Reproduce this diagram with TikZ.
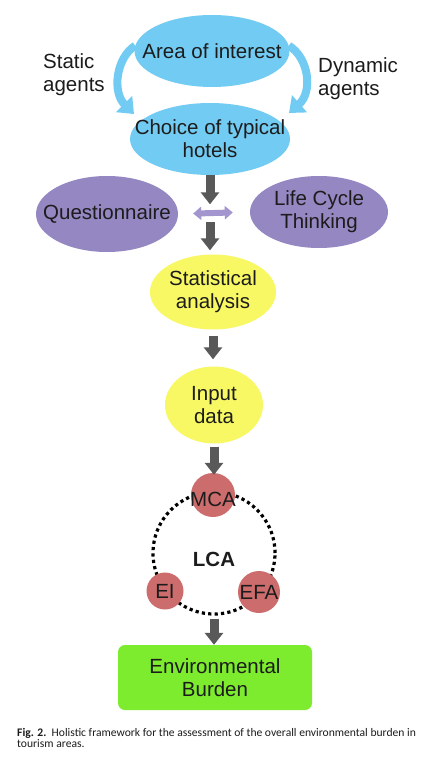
\documentclass[tikz,border=0pt]{standalone}
\usepackage{fontspec}
\setmainfont{Liberation Sans}
\newfontfamily\capfont{Carlito}
\usetikzlibrary{arrows.meta,shapes.geometric}
\definecolor{skyb}{HTML}{72CBF2}
\definecolor{lav}{HTML}{9587C2}
\definecolor{lavlt}{HTML}{A396CF}
\definecolor{yel}{HTML}{F8F865}
\definecolor{rosy}{HTML}{CC6C6C}
\definecolor{lime}{HTML}{7DEB2E}
\definecolor{darkg}{HTML}{595959}
\definecolor{txt}{HTML}{1C1C1C}
\begin{document}
\begin{tikzpicture}[x=1pt,y=-1pt,
  every node/.style={font=\fontsize{20.5}{23}\selectfont, text=txt, align=center, inner sep=0pt},
  blob/.style={ellipse, draw=none},
  disc/.style={circle, draw=none, fill=rosy},
  bluearrow/.style={draw=skyb, line width=8pt, -{Triangle[width=22pt,length=14pt]}},
  grayarrow/.style={draw=darkg, line width=9pt, -{Triangle[width=18pt,length=12pt]}},
  duoarrow/.style={draw=lavlt, line width=6pt, {Triangle[width=13pt,length=8pt]}-{Triangle[width=13pt,length=8pt]}},
  ringstyle/.style={circle, draw=black, line width=3.2pt, dash pattern=on 3.2pt off 3.2pt}
]
\useasboundingbox[fill=white] (0,0) rectangle (426,762);

% top ellipses
\node[blob, fill=skyb, minimum width=155pt, minimum height=72pt, label=center:{Area of interest}] (aoi) at (212,51) {};
\node[blob, fill=skyb, minimum width=160pt, minimum height=72pt, label=center:{Choice of typical\\hotels}] (cho) at (210,139) {};

\node[anchor=north west, align=left] (stat1) at (43,53) {Static\\agents};
\node[anchor=north west, align=left] (dyn) at (318,57) {Dynamic\\agents};

\coordinate (lt) at (134,114);
\coordinate (rt) at (289,113);
\draw[bluearrow] (aoi.176) .. controls (116,58) and (112,92) .. (lt);
\draw[bluearrow] (aoi.4) .. controls (309,58) and (313,92) .. (rt);

% purple
\node[blob, fill=lav, minimum width=142pt, minimum height=76pt, label=center:{Questionnaire}] (que) at (107,214) {};
\node[blob, fill=lav, minimum width=138pt, minimum height=72pt, label=center:{Life Cycle\\Thinking}] (lct) at (319,212) {};
\draw[duoarrow, shorten <=15pt, shorten >=17pt] (que.east) -- (lct.west);

% yellow
\node[blob, fill=yel, minimum width=126pt, minimum height=75pt, label=center:{Statistical\\analysis}] (stat) at (213,292) {};
\node[blob, fill=yel, minimum width=98pt, minimum height=77pt, label=center:{Input\\data}] (inp) at (214,405) {};

\draw[grayarrow, shorten >=50pt] (cho.south) -- (cho.south |- stat.north);
\draw[grayarrow, shorten <=47pt, shorten >=4pt] (cho.south) -- (cho.south |- stat.north);
\draw[grayarrow, shorten <=6pt, shorten >=7pt] (stat.south) -- (stat.south |- inp.north);

% LCA ring
\node[ringstyle, minimum size=122pt] (ring) at (214,553) {};
\node[font=\fontsize{20.5}{23}\selectfont\bfseries] (lca) at (214,559) {LCA};
\node[disc, minimum size=44pt] (mca) at (213,495) {};
\node at (213,499) {MCA};
\node[disc, minimum size=37pt] (ei) at (165,591) {EI};
\node[disc, minimum size=42pt] (efa) at (259,592) {EFA};

\draw[grayarrow, shorten <=3pt, shorten >=-2pt] (inp.south) -- (inp.south |- mca.north);

% bottom
\node[draw=none, fill=lime, rounded corners=7pt, minimum width=194pt, minimum height=65pt] (env) at (215,677.5) {Environmental\\Burden};
\draw[grayarrow, shorten <=3pt] (ring.south) -- (ring.south |- env.north);

% caption
\node[anchor=north west, align=left, font=\capfont\fontsize{11.6}{11}\selectfont] (cap) at (17,728)
  {\textbf{Fig. 2.}\ \ Holistic framework for the assessment of the overall environmental burden in\\tourism areas.};
\end{tikzpicture}
\end{document}
